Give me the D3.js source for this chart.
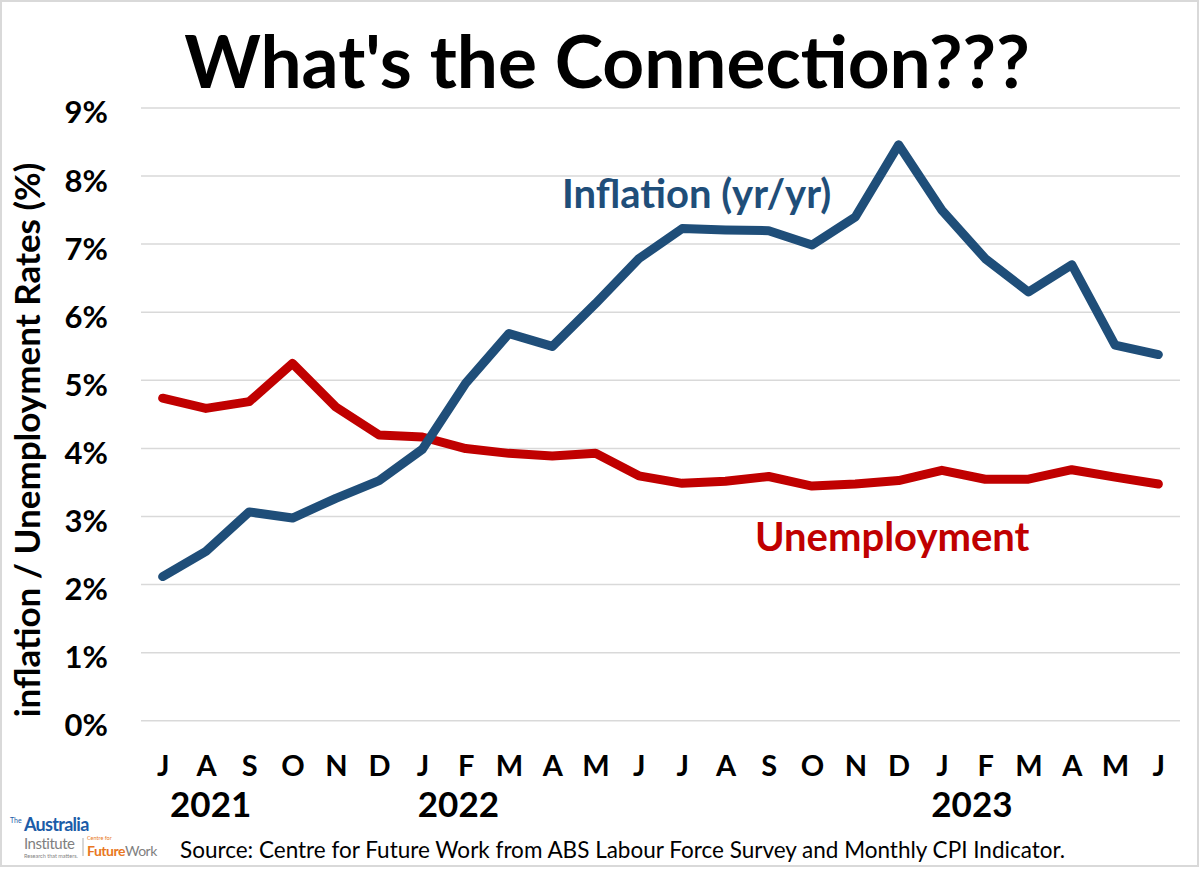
<!DOCTYPE html>
<html>
<head>
<meta charset="utf-8">
<script src="https://cdn.jsdelivr.net/npm/d3@7"></script>
<style>
  html, body { margin: 0; padding: 0; background: #fff; }
  svg { display: block; }
  text { font-family: Lato, "Open Sans", sans-serif; }
</style>
</head>
<body>
<svg id="chart" width="1200" height="870"></svg>
<script>
// ---- data ----
const months = ["Jul 2021","Aug 2021","Sep 2021","Oct 2021","Nov 2021","Dec 2021",
                "Jan 2022","Feb 2022","Mar 2022","Apr 2022","May 2022","Jun 2022",
                "Jul 2022","Aug 2022","Sep 2022","Oct 2022","Nov 2022","Dec 2022",
                "Jan 2023","Feb 2023","Mar 2023","Apr 2023","May 2023","Jun 2023"];
const monthLabels = ["J","A","S","O","N","D","J","F","M","A","M","J",
                     "J","A","S","O","N","D","J","F","M","A","M","J"];
const inflation = [2.11, 2.48, 3.06, 2.97, 3.26, 3.52, 3.98, 4.95, 5.68, 5.49, 6.12, 6.78,
                   7.22, 7.20, 7.19, 6.98, 7.39, 8.45, 7.49, 6.78, 6.29, 6.69, 5.51, 5.37];
const unemployment = [4.73, 4.58, 4.68, 5.24, 4.60, 4.19, 4.16, 3.99, 3.92, 3.88, 3.92, 3.59,
                      3.48, 3.51, 3.58, 3.44, 3.47, 3.52, 3.67, 3.54, 3.54, 3.68, 3.57, 3.47];
const yTicks = [0,1,2,3,4,5,6,7,8,9];
const yearLabels = [
  {label: "2021", month: "Jul 2021", offset: 48},
  {label: "2022", month: "Jan 2022", offset: 36},
  {label: "2023", month: "Jan 2023", offset: 30}
];
const titleText = "What's the Connection???";
const yTitle = "inflation / Unemployment Rates (%)";
const sourceText = "Source: Centre for Future Work from ABS Labour Force Survey and Monthly CPI Indicator.";

// ---- layout ----
const W = 1200, H = 870;
const plot = {left: 141, right: 1180, top: 107.4, bottom: 720.3};
const blue = "#1F4E79", red = "#C00000", grid = "#D9D9D9";

const svg = d3.select("#chart");
svg.append("rect").attr("x", 0).attr("y", 0).attr("width", W).attr("height", H).attr("fill", "#fff");
svg.append("rect").attr("x", 1).attr("y", 1).attr("width", W - 3).attr("height", H - 5)
   .attr("fill", "none").attr("stroke", grid).attr("stroke-width", 2);

const x = d3.scalePoint().domain(months).range([plot.left, plot.right]).padding(0.5);
const y = d3.scaleLinear().domain([0, 9]).range([plot.bottom, plot.top]);

// y axis + gridlines
const yAxis = svg.append("g").attr("transform", `translate(${plot.left},0)`)
  .call(d3.axisLeft(y).tickValues(yTicks).tickFormat(d => d + "%")
        .tickSizeInner(-(plot.right - plot.left)).tickSizeOuter(0).tickPadding(33));
yAxis.select(".domain").remove();
yAxis.selectAll(".tick line").attr("stroke", grid).attr("stroke-width", 1.5);
yAxis.selectAll(".tick text").attr("fill", "#000").attr("font-size", 31).attr("font-weight", 700)
  .attr("font-family", "Lato").attr("dy", "0.5em");

// x axis
const xAxis = svg.append("g").attr("transform", `translate(0,${plot.bottom})`)
  .call(d3.axisBottom(x).tickFormat((d, i) => monthLabels[i]).tickSize(0));
xAxis.select(".domain").remove();
xAxis.selectAll(".tick text").attr("fill", "#000").attr("font-size", 29).attr("font-weight", 700)
  .attr("font-family", "Lato").attr("dy", null).attr("y", 56);

// year labels
svg.append("g").selectAll("text").data(yearLabels).join("text")
  .attr("x", d => x(d.month) + d.offset).attr("y", 817)
  .attr("text-anchor", "middle").attr("font-size", 35).attr("font-weight", 700)
  .attr("fill", "#000").text(d => d.label);

// lines
const line = d3.line().x((d, i) => x(months[i])).y(d => y(d));
svg.append("path").datum(unemployment).attr("d", line).attr("fill", "none")
  .attr("stroke", red).attr("stroke-width", 9).attr("stroke-linecap", "round").attr("stroke-linejoin", "round");
svg.append("path").datum(inflation).attr("d", line).attr("fill", "none")
  .attr("stroke", blue).attr("stroke-width", 9).attr("stroke-linecap", "round").attr("stroke-linejoin", "round");

// series labels
svg.append("text").attr("x", 562).attr("y", 208).attr("font-size", 40).attr("font-weight", 700)
  .attr("fill", blue).text("Inflation (yr/yr)");
svg.append("text").attr("x", 755).attr("y", 551).attr("font-size", 40).attr("font-weight", 700)
  .attr("fill", red).text("Unemployment");

// title
svg.append("text").attr("x", 607).attr("y", 88).attr("text-anchor", "middle")
  .attr("font-size", 73).attr("font-weight", 700).attr("fill", "#000").text(titleText);

// y axis title
svg.append("text").attr("transform", "translate(40,440) rotate(-90)").attr("text-anchor", "middle")
  .attr("font-size", 35).attr("font-weight", 700).attr("fill", "#000").text(yTitle);

// source
svg.append("text").attr("x", 180).attr("y", 858).attr("font-size", 22.5).attr("font-weight", 400)
  .attr("fill", "#000").text(sourceText);

// logo
const logo = svg.append("g");
logo.append("text").attr("x", 10).attr("y", 823).attr("font-size", 7).attr("fill", "#1B5CA8").text("The");
logo.append("text").attr("x", 24).attr("y", 831).attr("font-size", 18).attr("font-weight", 700)
  .attr("letter-spacing", -0.7).attr("fill", "#1B5CA8").text("Australia");
logo.append("text").attr("x", 24).attr("y", 849).attr("font-size", 15).attr("font-weight", 400)
  .attr("letter-spacing", -0.5).attr("fill", "#7F7F7F").text("Institute");
logo.append("text").attr("x", 24).attr("y", 858).attr("font-size", 5.5).attr("fill", "#7F7F7F").text("Research that matters.");
logo.append("line").attr("x1", 83).attr("x2", 83).attr("y1", 838).attr("y2", 856).attr("stroke", "#9a9a9a").attr("stroke-width", 0.8);
logo.append("text").attr("x", 87).attr("y", 840).attr("font-size", 5.5).attr("fill", "#E87722").text("Centre for");
const fw = logo.append("text").attr("x", 87).attr("y", 856).attr("font-size", 14).attr("letter-spacing", -0.5);
fw.append("tspan").attr("fill", "#E87722").attr("font-weight", 700).text("Future");
fw.append("tspan").attr("fill", "#7F7F7F").attr("font-weight", 400).text("Work");
</script>
</body>
</html>
